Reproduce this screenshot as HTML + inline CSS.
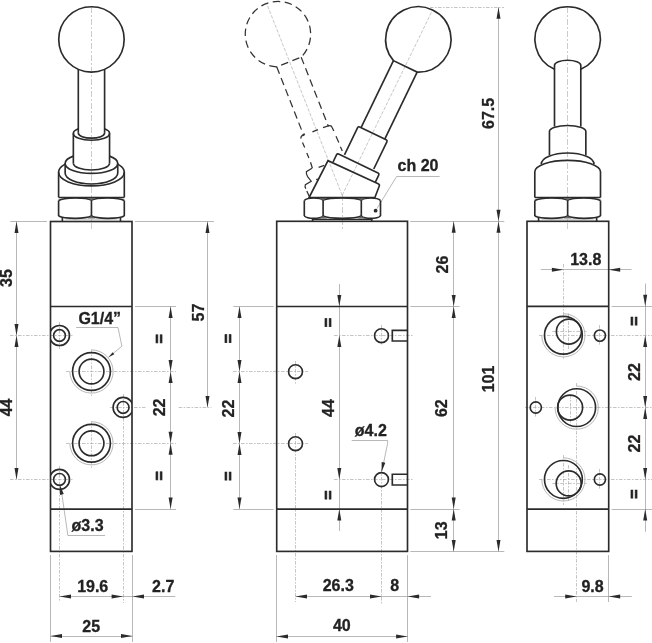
<!DOCTYPE html>
<html><head><meta charset="utf-8"><title>Valve drawing</title>
<style>
html,body{margin:0;padding:0;background:#fff;}
body{width:652px;height:643px;overflow:hidden;}
svg{display:block;filter:grayscale(1);}
.k{fill:none;stroke:#2b2b2b;stroke-width:1.65;}
.kd{fill:none;stroke:#333;stroke-width:1.25;stroke-dasharray:7.5 4.5;}
.kd2{fill:none;stroke:#333;stroke-width:1.25;}
.f{fill:#666;stroke:none;}
.t{fill:none;stroke:#999;stroke-width:0.7;}
.c{fill:none;stroke:#b0b0b0;stroke-width:0.65;stroke-dasharray:6 2 2 2;}
.cl{fill:none;stroke:#a4a4a4;stroke-width:0.62;stroke-dasharray:3.5 1.5;}
.c2{fill:none;stroke:#a6a6a6;stroke-width:0.65;stroke-dasharray:3.6 1.4 1.6 1.4;}
.a{fill:#2b2b2b;stroke:none;}
text{font-family:"Liberation Sans",Arial,Helvetica,sans-serif;font-weight:bold;fill:#222;stroke:#222;stroke-width:0.3;}
text.eq{stroke-width:0.7;}
</style></head>
<body>
<svg width="652" height="643" viewBox="0 0 652 643">
<rect x="0" y="0" width="652" height="643" fill="#ffffff"/>
<line class="t" x1="65.35" y1="219.50" x2="117.45" y2="219.50" style="stroke:#c4c4c4"/>
<path class="t" d="M91.50,349.90 A21.6,21.6 0 1 1 69.90,371.50"/>
<path class="t" d="M91.50,421.70 A21.6,21.6 0 1 1 69.90,443.30"/>
<line class="c" x1="91.50" y1="7.00" x2="91.50" y2="229.00"/>
<line class="t" x1="16.50" y1="221.45" x2="16.50" y2="479.40"/>
<line class="t" x1="10.30" y1="221.50" x2="47.00" y2="221.50"/>
<line class="c2" x1="10.00" y1="335.50" x2="72.50" y2="335.50"/>
<line class="c2" x1="10.00" y1="479.50" x2="72.50" y2="479.50"/>
<line class="c2" x1="59.50" y1="322.00" x2="59.50" y2="349.00"/>
<line class="c2" x1="59.50" y1="466.00" x2="59.50" y2="602.00"/>
<line class="c2" x1="66.00" y1="371.50" x2="176.00" y2="371.50"/>
<line class="c2" x1="66.00" y1="443.50" x2="176.00" y2="443.50"/>
<line class="c2" x1="91.50" y1="349.50" x2="91.50" y2="396.50"/>
<line class="c2" x1="91.50" y1="421.30" x2="91.50" y2="468.30"/>
<line class="c2" x1="110.00" y1="407.50" x2="145.50" y2="407.50"/>
<line class="c2" x1="178.60" y1="407.50" x2="211.50" y2="407.50"/>
<line class="c2" x1="123.50" y1="394.00" x2="123.50" y2="603.00"/>
<line class="t" x1="170.50" y1="306.50" x2="170.50" y2="509.10"/>
<line class="t" x1="135.00" y1="306.50" x2="176.00" y2="306.50"/>
<line class="t" x1="135.00" y1="509.50" x2="176.00" y2="509.50"/>
<line class="t" x1="207.50" y1="221.45" x2="207.50" y2="407.40"/>
<line class="t" x1="135.00" y1="221.50" x2="214.00" y2="221.50"/>
<path class="t" d="M76.2,327.5 L118,327.5 L121.9,346.2 L108.5,357.3"/>
<path class="t" d="M105,535.5 L67.9,535.5 L61.9,494.5 L59.9,485.5"/>
<line class="t" x1="50.50" y1="555.00" x2="50.50" y2="642.00"/>
<line class="t" x1="132.50" y1="555.00" x2="132.50" y2="642.00"/>
<line class="t" x1="59.50" y1="596.50" x2="175.30" y2="596.50"/>
<line class="t" x1="50.50" y1="636.50" x2="132.50" y2="636.50"/>
<line class="cl" x1="342.20" y1="195.30" x2="432.50" y2="10.15"/>
<line class="cl" x1="342.20" y1="195.30" x2="266.70" y2="3.63"/>
<line class="c" x1="342.50" y1="195.00" x2="342.50" y2="229.00"/>
<path class="t" d="M439.6,176.5 L396.6,176.5 L376.8,208.8"/>
<line class="t" x1="239.50" y1="306.50" x2="239.50" y2="509.10"/>
<line class="t" x1="233.30" y1="306.50" x2="273.70" y2="306.50"/>
<line class="t" x1="233.30" y1="509.50" x2="273.70" y2="509.50"/>
<line class="c2" x1="233.00" y1="371.50" x2="308.00" y2="371.50"/>
<line class="c2" x1="233.00" y1="443.50" x2="308.00" y2="443.50"/>
<line class="c2" x1="295.50" y1="361.00" x2="295.50" y2="384.50"/>
<line class="c2" x1="295.50" y1="433.00" x2="295.50" y2="602.00"/>
<line class="t" x1="339.50" y1="284.00" x2="339.50" y2="531.00"/>
<line class="c2" x1="334.00" y1="335.50" x2="414.00" y2="335.50"/>
<line class="c2" x1="334.00" y1="479.50" x2="414.00" y2="479.50"/>
<line class="c2" x1="381.50" y1="325.00" x2="381.50" y2="346.00"/>
<line class="c2" x1="381.50" y1="469.00" x2="381.50" y2="603.50"/>
<path class="t" d="M351.7,440.5 L387.7,440.5 L387.6,443.6 L381.8,471.5"/>
<line class="t" x1="453.50" y1="221.30" x2="453.50" y2="551.50"/>
<line class="t" x1="410.30" y1="221.50" x2="504.30" y2="221.50"/>
<line class="t" x1="410.30" y1="551.50" x2="504.30" y2="551.50"/>
<line class="t" x1="410.30" y1="306.50" x2="459.60" y2="306.50"/>
<line class="t" x1="410.30" y1="509.50" x2="459.60" y2="509.50"/>
<line class="t" x1="498.50" y1="7.30" x2="498.50" y2="551.50"/>
<line class="c2" x1="430.00" y1="7.50" x2="504.00" y2="7.50"/>
<line class="t" x1="276.50" y1="555.00" x2="276.50" y2="642.00"/>
<line class="t" x1="407.50" y1="555.00" x2="407.50" y2="642.00"/>
<line class="t" x1="295.50" y1="596.50" x2="431.00" y2="596.50"/>
<line class="t" x1="276.50" y1="636.50" x2="407.60" y2="636.50"/>
<line class="t" x1="541.55" y1="219.50" x2="593.65" y2="219.50" style="stroke:#c4c4c4"/>
<line class="c" x1="567.50" y1="7.00" x2="567.50" y2="229.00"/>
<path class="t" d="M563.40,313.70 A21.6,21.6 0 1 1 541.80,335.30"/>
<path class="t" d="M576.70,386.00 A21.6,21.6 0 1 1 555.10,407.60"/>
<path class="t" d="M563.40,457.80 A21.6,21.6 0 1 1 541.80,479.40"/>
<line class="c2" x1="599.50" y1="325.10" x2="599.50" y2="346.10"/>
<line class="c2" x1="535.50" y1="397.00" x2="535.50" y2="418.00"/>
<line class="c2" x1="599.50" y1="469.00" x2="599.50" y2="490.00"/>
<line class="c2" x1="539.00" y1="335.50" x2="652.00" y2="335.50"/>
<line class="c2" x1="525.00" y1="407.50" x2="652.00" y2="407.50"/>
<line class="c2" x1="539.00" y1="479.50" x2="652.00" y2="479.50"/>
<line class="c2" x1="563.50" y1="264.00" x2="563.50" y2="360.00"/>
<line class="c2" x1="563.50" y1="455.00" x2="563.50" y2="505.00"/>
<line class="c2" x1="576.50" y1="383.00" x2="576.50" y2="602.00"/>
<line class="c2" x1="552.30" y1="331.50" x2="586.60" y2="331.50"/>
<line class="c2" x1="568.50" y1="313.30" x2="568.50" y2="350.40"/>
<line class="c2" x1="570.50" y1="395.00" x2="570.50" y2="425.00"/>
<line class="c2" x1="552.30" y1="483.50" x2="586.60" y2="483.50"/>
<line class="c2" x1="568.50" y1="465.00" x2="568.50" y2="502.00"/>
<line class="t" x1="540.90" y1="269.50" x2="631.50" y2="269.50"/>
<line class="t" x1="554.00" y1="596.50" x2="631.80" y2="596.50"/>
<line class="t" x1="608.50" y1="555.00" x2="608.50" y2="602.00"/>
<line class="t" x1="645.50" y1="283.50" x2="645.50" y2="531.80"/>
<line class="t" x1="611.60" y1="306.50" x2="652.00" y2="306.50"/>
<line class="t" x1="611.60" y1="509.50" x2="652.00" y2="509.50"/>
<circle class="k" cx="91.45" cy="39.40" r="32.70"/>
<line class="k" x1="78.30" y1="69.34" x2="78.30" y2="132.90"/>
<line class="k" x1="104.60" y1="69.34" x2="104.60" y2="132.90"/>
<path class="k" d="M78.30,132.9 A13.15,5.3 0 0 0 104.60,132.9"/>
<path class="k" d="M78.30,128.73 A18.1,6.8 0 0 0 73.35,133.4 A18.1,6.8 0 0 0 109.55,133.4 A18.1,6.8 0 0 0 104.60,128.73"/>
<line class="k" x1="73.35" y1="133.40" x2="73.35" y2="163.20"/>
<line class="k" x1="109.55" y1="133.40" x2="109.55" y2="163.20"/>
<path class="k" d="M73.35,163.2 A18.1,6.8 0 0 0 109.55,163.2"/>
<path class="k" d="M73.35,156.14 A26.3,10.0 0 0 0 65.15,163.4 A26.3,10.0 0 0 0 117.75,163.4 A26.3,10.0 0 0 0 109.55,156.14"/>
<line class="k" x1="65.15" y1="163.40" x2="65.15" y2="173.00"/>
<line class="k" x1="117.75" y1="163.40" x2="117.75" y2="173.00"/>
<path class="k" d="M65.15,173.0 A26.3,11 0 0 0 117.75,173.0"/>
<path class="k" d="M65.15,164.15 A32.85,13.6 0 0 0 58.60,172.3 A32.85,13.6 0 0 0 124.30,172.3 A32.85,13.6 0 0 0 117.75,164.15"/>
<line class="k" x1="58.60" y1="172.30" x2="58.60" y2="197.40"/>
<line class="k" x1="124.30" y1="172.30" x2="124.30" y2="197.40"/>
<line class="k" x1="58.60" y1="197.50" x2="124.30" y2="197.50"/>
<path class="k" d="M58.60,200.50 C64.18,197.20 85.87,197.20 91.45,200.10 M58.60,216.00 C64.18,219.10 85.87,219.10 91.45,216.10 M91.45,200.10 C97.03,197.20 118.72,197.20 124.30,200.50 M91.45,216.10 C97.03,219.10 118.72,219.10 124.30,216.00 "/>
<line class="k" x1="58.60" y1="200.50" x2="58.60" y2="216.00"/>
<line class="k" x1="124.30" y1="200.50" x2="124.30" y2="216.00"/>
<line class="k" x1="91.45" y1="200.10" x2="91.45" y2="216.10"/>
<path class="f" d="M87.45,198.10 L95.45,198.10 L91.45,200.30 Z"/>
<path class="f" d="M87.45,218.60 L95.45,218.60 L91.45,215.90 Z"/>
<line class="k" x1="62.35" y1="217.40" x2="62.35" y2="221.30"/>
<line class="k" x1="120.45" y1="217.40" x2="120.45" y2="221.30"/>
<rect class="k" x="50.50" y="221.50" width="81.50" height="329.90"/>
<line class="k" x1="50.50" y1="306.50" x2="132.00" y2="306.50"/>
<line class="k" x1="50.50" y1="509.10" x2="132.00" y2="509.10"/>
<clipPath id="cb1"><rect x="50.5" y="221.5" width="81.5" height="330"/></clipPath>
<circle class="k" cx="59.50" cy="335.50" r="10.00" clip-path="url(#cb1)"/>
<circle class="k" cx="59.50" cy="335.50" r="5.90"/>
<circle class="k" cx="123.10" cy="407.40" r="10.00" clip-path="url(#cb1)"/>
<circle class="k" cx="123.10" cy="407.40" r="5.90"/>
<circle class="k" cx="59.50" cy="479.40" r="10.00" clip-path="url(#cb1)"/>
<circle class="k" cx="59.50" cy="479.40" r="5.90"/>
<circle class="k" cx="91.50" cy="371.50" r="18.90"/>
<circle class="k" cx="91.50" cy="371.50" r="12.40"/>
<circle class="k" cx="91.50" cy="443.30" r="18.90"/>
<circle class="k" cx="91.50" cy="443.30" r="12.40"/>
<polygon class="a" points="16.50,221.45 14.50,232.95 18.50,232.95"/>
<polygon class="a" points="16.50,335.50 14.50,324.00 18.50,324.00"/>
<polygon class="a" points="16.50,335.50 14.50,347.00 18.50,347.00"/>
<polygon class="a" points="16.50,479.40 14.50,467.90 18.50,467.90"/>
<text x="12.30" y="278.00" text-anchor="middle" font-size="16" transform="rotate(-90 12.30 278.00)">35</text>
<text x="12.30" y="407.40" text-anchor="middle" font-size="16" transform="rotate(-90 12.30 407.40)">44</text>
<polygon class="a" points="170.60,306.50 168.60,318.00 172.60,318.00"/>
<polygon class="a" points="170.60,371.50 168.60,360.00 172.60,360.00"/>
<polygon class="a" points="170.60,371.50 168.60,383.00 172.60,383.00"/>
<polygon class="a" points="170.60,443.30 168.60,431.80 172.60,431.80"/>
<polygon class="a" points="170.60,443.30 168.60,454.80 172.60,454.80"/>
<polygon class="a" points="170.60,509.10 168.60,497.60 172.60,497.60"/>
<text class="eq" x="165.20" y="338.80" text-anchor="middle" font-size="16" transform="rotate(-90 165.20 338.80)">=</text>
<text x="165.20" y="407.40" text-anchor="middle" font-size="16" transform="rotate(-90 165.20 407.40)">22</text>
<text class="eq" x="165.20" y="475.80" text-anchor="middle" font-size="16" transform="rotate(-90 165.20 475.80)">=</text>
<polygon class="a" points="207.50,221.45 205.50,232.95 209.50,232.95"/>
<polygon class="a" points="207.50,407.40 205.50,395.90 209.50,395.90"/>
<text x="204.30" y="312.60" text-anchor="middle" font-size="16" transform="rotate(-90 204.30 312.60)">57</text>
<text x="78.40" y="323.50" text-anchor="start" font-size="16">G1/4”</text>
<polygon class="a" points="108.50,357.30 114.33,354.15 112.68,352.15"/>
<text x="71.60" y="530.50" text-anchor="start" font-size="16">ø3.3</text>
<polygon class="a" points="59.90,485.00 60.04,494.88 63.76,494.10"/>
<polygon class="a" points="59.50,596.60 71.00,594.60 71.00,598.60"/>
<polygon class="a" points="123.10,596.60 111.60,594.60 111.60,598.60"/>
<polygon class="a" points="132.50,596.60 144.00,594.60 144.00,598.60"/>
<polygon class="a" points="50.50,636.00 62.00,634.00 62.00,638.00"/>
<polygon class="a" points="132.50,636.00 121.00,634.00 121.00,638.00"/>
<text x="92.70" y="591.80" text-anchor="middle" font-size="16">19.6</text>
<text x="163.20" y="591.80" text-anchor="middle" font-size="16">2.7</text>
<text x="91.20" y="631.60" text-anchor="middle" font-size="16">25</text>
<rect class="k" x="276.70" y="221.30" width="130.80" height="330.10"/>
<line class="k" x1="276.70" y1="306.50" x2="407.50" y2="306.50"/>
<line class="k" x1="276.70" y1="509.10" x2="407.50" y2="509.10"/>
<circle class="k" cx="295.50" cy="371.70" r="6.95"/>
<circle class="k" cx="295.50" cy="443.70" r="6.95"/>
<circle class="k" cx="381.50" cy="335.70" r="6.95"/>
<circle class="k" cx="381.50" cy="479.60" r="6.95"/>
<path class="k" d="M407.5,330.4 L392.3,330.4 L392.3,341.0 L407.5,341.0"/>
<path class="k" d="M407.5,474.2 L392.3,474.2 L392.3,485.0 L407.5,485.0"/>
<path class="k" d="M304.30,200.50 C307.50,197.20 319.90,197.20 323.10,200.10 M304.30,216.00 C307.50,219.10 319.90,219.10 323.10,216.10 M323.10,200.10 C329.59,197.20 354.81,197.20 361.30,200.10 M323.10,216.10 C329.59,219.10 354.81,219.10 361.30,216.10 M361.30,200.10 C364.56,197.20 377.24,197.20 380.50,200.50 M361.30,216.10 C364.56,219.10 377.24,219.10 380.50,216.00 "/>
<line class="k" x1="304.30" y1="200.50" x2="304.30" y2="216.00"/>
<line class="k" x1="380.50" y1="200.50" x2="380.50" y2="216.00"/>
<line class="k" x1="323.10" y1="200.10" x2="323.10" y2="216.10"/>
<path class="f" d="M319.10,198.10 L327.10,198.10 L323.10,200.30 Z"/>
<path class="f" d="M319.10,218.60 L327.10,218.60 L323.10,215.90 Z"/>
<line class="k" x1="361.30" y1="200.10" x2="361.30" y2="216.10"/>
<path class="f" d="M357.30,198.10 L365.30,198.10 L361.30,200.30 Z"/>
<path class="f" d="M357.30,218.60 L365.30,218.60 L361.30,215.90 Z"/>
<line class="k" x1="312.60" y1="218.80" x2="312.60" y2="221.30"/>
<line class="k" x1="371.70" y1="218.80" x2="371.70" y2="221.30"/>
<path class="k" d="M312.0,219.4 L372.3,219.4" style="stroke-width:1.1"/>
<circle cx="375.6" cy="210.7" r="1.9" fill="#2b2b2b"/>
<g transform="rotate(25.8 342.2 195.3)">
<path class="k" d="M329.75,51.74 A32.7,32.7 0 1 1 356.05,51.74 Z"/>
<line class="k" x1="329.75" y1="51.74" x2="329.75" y2="126.20"/>
<line class="k" x1="356.05" y1="51.74" x2="356.05" y2="126.20"/>
<path class="k" d="M326.65,157.90 L326.65,127.70 Q326.65,126.20 328.15,126.20 L357.65,126.20 Q359.15,126.20 359.15,127.70 L359.15,157.90"/>
<path class="k" d="M319.50,169.30 L319.50,161.20 Q319.50,159.70 321.00,159.70 L364.80,159.70 Q366.30,159.70 366.30,161.20 L366.30,169.30"/>
</g>
<path class="k" d="M309.1,197.5 L328,160.7 L378.2,183.8 Q379.9,184.6 379.2,186.3 L374.9,197.5 Z"/>
<clipPath id="cl"><path d="M200,0 L420,0 L358,127 L344.2,154.5 L336.5,153.5 L332.5,162 L328,160.7 L309.1,197.4 L200,197.4 Z"/></clipPath>
<g clip-path="url(#cl)">
<g transform="rotate(-21.5 342.2 195.3)">
<path class="kd" d="M328.35,51.74 A32.7,32.7 0 1 1 354.65,51.74 Z"/>
<line class="kd" x1="328.35" y1="51.74" x2="328.35" y2="126.20"/>
<line class="kd" x1="354.65" y1="51.74" x2="354.65" y2="126.20"/>
</g>
</g>
<path class="kd2" d="M300.97,138.66 Q300.2,136.2 304.95,133.93 M312.4,131.8 L318.0,129.7 M323,127.7 L328.3,125.85 Q331.3,124.98 332.3,127.7 L333.8,130.9 M336.0,136.2 L338.8,142.6 M340.4,146.7 L342.3,151.1 M302.5,142.4 L304.7,147.6 M306.8,153 L308.9,157.9 M310.5,162.3 L312.4,168.3"/>
<path class="kd2" d="M312.0,168.2 L306.4,171.6 Q306.0,174.2 307.6,176.6 L311.2,181.2 L305.4,184.6 Q304.6,186.6 305.8,188.8"/>
<path class="kd2" d="M306.8,191 L309.2,196.2"/>
<path class="kd2" d="M318.6,167.3 L324.2,165.4"/>
<path class="kd2" d="M316.1,179.7 L318,179"/>
<text x="397.60" y="170.80" text-anchor="start" font-size="16">ch 20</text>
<polygon class="a" points="239.50,306.50 237.50,318.00 241.50,318.00"/>
<polygon class="a" points="239.50,371.40 237.50,359.90 241.50,359.90"/>
<polygon class="a" points="239.50,371.40 237.50,382.90 241.50,382.90"/>
<polygon class="a" points="239.50,443.50 237.50,432.00 241.50,432.00"/>
<polygon class="a" points="239.50,443.50 237.50,455.00 241.50,455.00"/>
<polygon class="a" points="239.50,509.10 237.50,497.60 241.50,497.60"/>
<text class="eq" x="234.30" y="338.60" text-anchor="middle" font-size="16" transform="rotate(-90 234.30 338.60)">=</text>
<text x="234.50" y="408.60" text-anchor="middle" font-size="16" transform="rotate(-90 234.50 408.60)">22</text>
<text class="eq" x="234.30" y="476.00" text-anchor="middle" font-size="16" transform="rotate(-90 234.30 476.00)">=</text>
<polygon class="a" points="339.30,306.50 337.30,295.00 341.30,295.00"/>
<polygon class="a" points="339.30,335.50 337.30,347.00 341.30,347.00"/>
<polygon class="a" points="339.30,479.40 337.30,467.90 341.30,467.90"/>
<polygon class="a" points="339.30,509.10 337.30,520.60 341.30,520.60"/>
<text class="eq" x="334.30" y="322.60" text-anchor="middle" font-size="16" transform="rotate(-90 334.30 322.60)">=</text>
<text x="334.30" y="408.00" text-anchor="middle" font-size="16" transform="rotate(-90 334.30 408.00)">44</text>
<text class="eq" x="334.30" y="495.00" text-anchor="middle" font-size="16" transform="rotate(-90 334.30 495.00)">=</text>
<text x="354.80" y="435.70" text-anchor="start" font-size="16">ø4.2</text>
<polygon class="a" points="381.60,471.80 385.34,462.86 381.62,462.11"/>
<polygon class="a" points="453.70,221.30 451.70,232.80 455.70,232.80"/>
<polygon class="a" points="453.70,306.50 451.70,295.00 455.70,295.00"/>
<polygon class="a" points="453.70,306.50 451.70,318.00 455.70,318.00"/>
<polygon class="a" points="453.70,509.10 451.70,497.60 455.70,497.60"/>
<polygon class="a" points="453.70,509.10 451.70,520.60 455.70,520.60"/>
<polygon class="a" points="453.70,551.50 451.70,540.00 455.70,540.00"/>
<text x="447.50" y="264.50" text-anchor="middle" font-size="16" transform="rotate(-90 447.50 264.50)">26</text>
<text x="447.50" y="408.20" text-anchor="middle" font-size="16" transform="rotate(-90 447.50 408.20)">62</text>
<text x="447.50" y="530.30" text-anchor="middle" font-size="16" transform="rotate(-90 447.50 530.30)">13</text>
<polygon class="a" points="498.50,7.30 496.50,18.80 500.50,18.80"/>
<polygon class="a" points="498.50,221.30 496.50,209.80 500.50,209.80"/>
<polygon class="a" points="498.50,221.30 496.50,232.80 500.50,232.80"/>
<polygon class="a" points="498.50,551.50 496.50,540.00 500.50,540.00"/>
<text x="494.00" y="113.40" text-anchor="middle" font-size="16" transform="rotate(-90 494.00 113.40)">67.5</text>
<text x="494.00" y="379.00" text-anchor="middle" font-size="16" transform="rotate(-90 494.00 379.00)">101</text>
<polygon class="a" points="295.50,596.50 307.00,594.50 307.00,598.50"/>
<polygon class="a" points="381.50,596.50 370.00,594.50 370.00,598.50"/>
<polygon class="a" points="407.60,596.50 419.10,594.50 419.10,598.50"/>
<polygon class="a" points="276.50,636.40 288.00,634.40 288.00,638.40"/>
<polygon class="a" points="407.60,636.40 396.10,634.40 396.10,638.40"/>
<text x="338.30" y="591.20" text-anchor="middle" font-size="16">26.3</text>
<text x="394.70" y="591.20" text-anchor="middle" font-size="16">8</text>
<text x="341.80" y="631.00" text-anchor="middle" font-size="16">40</text>
<path class="k" d="M554.50,69.34 A32.7,32.7 0 1 1 580.80,69.34"/>
<path class="k" d="M554.50,126.6 L554.50,65.2 A13.15,5 0 0 1 580.80,65.2 L580.80,126.6"/>
<path class="k" d="M549.45,155.3 L549.45,131.5 A18.2,6 0 0 1 585.85,131.5 L585.85,155.3"/>
<path class="k" d="M541.25,164.3 A26.4,11.3 0 0 1 594.05,164.3"/>
<path class="k" d="M534.80,197.4 L534.80,171.8 A32.85,11.4 0 0 1 600.50,171.8 L600.50,197.4"/>
<line class="k" x1="534.80" y1="197.50" x2="600.50" y2="197.50"/>
<path class="k" d="M534.80,200.50 C540.38,197.20 562.07,197.20 567.65,200.10 M534.80,216.00 C540.38,219.10 562.07,219.10 567.65,216.10 M567.65,200.10 C573.23,197.20 594.92,197.20 600.50,200.50 M567.65,216.10 C573.23,219.10 594.92,219.10 600.50,216.00 "/>
<line class="k" x1="534.80" y1="200.50" x2="534.80" y2="216.00"/>
<line class="k" x1="600.50" y1="200.50" x2="600.50" y2="216.00"/>
<line class="k" x1="567.65" y1="200.10" x2="567.65" y2="216.10"/>
<path class="f" d="M563.65,198.10 L571.65,198.10 L567.65,200.30 Z"/>
<path class="f" d="M563.65,218.60 L571.65,218.60 L567.65,215.90 Z"/>
<line class="k" x1="538.55" y1="217.40" x2="538.55" y2="221.30"/>
<line class="k" x1="596.65" y1="217.40" x2="596.65" y2="221.30"/>
<rect class="k" x="527.00" y="221.30" width="81.70" height="330.10"/>
<line class="k" x1="527.00" y1="306.30" x2="608.70" y2="306.30"/>
<line class="k" x1="527.00" y1="509.10" x2="608.70" y2="509.10"/>
<circle class="k" cx="563.40" cy="335.30" r="18.90"/>
<circle class="k" cx="568.90" cy="331.60" r="12.50"/>
<circle class="k" cx="576.70" cy="407.60" r="18.90"/>
<circle class="k" cx="570.10" cy="407.60" r="12.50"/>
<circle class="k" cx="563.40" cy="479.40" r="18.90"/>
<circle class="k" cx="568.70" cy="483.40" r="12.50"/>
<circle class="k" cx="599.90" cy="335.60" r="5.60"/>
<circle class="k" cx="535.80" cy="407.50" r="5.60"/>
<circle class="k" cx="599.90" cy="479.50" r="5.60"/>
<polygon class="a" points="563.40,269.70 551.90,267.70 551.90,271.70"/>
<polygon class="a" points="608.70,269.70 620.20,267.70 620.20,271.70"/>
<text x="585.80" y="264.80" text-anchor="middle" font-size="16">13.8</text>
<polygon class="a" points="576.70,596.40 565.20,594.40 565.20,598.40"/>
<polygon class="a" points="608.70,596.40 620.20,594.40 620.20,598.40"/>
<text x="592.60" y="591.80" text-anchor="middle" font-size="16">9.8</text>
<polygon class="a" points="645.20,306.30 643.20,294.80 647.20,294.80"/>
<polygon class="a" points="645.20,335.50 643.20,347.00 647.20,347.00"/>
<polygon class="a" points="645.20,407.60 643.20,396.10 647.20,396.10"/>
<polygon class="a" points="645.20,407.60 643.20,419.10 647.20,419.10"/>
<polygon class="a" points="645.20,479.50 643.20,468.00 647.20,468.00"/>
<polygon class="a" points="645.20,509.10 643.20,520.60 647.20,520.60"/>
<text class="eq" x="640.00" y="321.00" text-anchor="middle" font-size="16" transform="rotate(-90 640.00 321.00)">=</text>
<text x="640.00" y="372.00" text-anchor="middle" font-size="16" transform="rotate(-90 640.00 372.00)">22</text>
<text x="640.00" y="443.50" text-anchor="middle" font-size="16" transform="rotate(-90 640.00 443.50)">22</text>
<text class="eq" x="640.00" y="494.00" text-anchor="middle" font-size="16" transform="rotate(-90 640.00 494.00)">=</text>
</svg>
</body></html>
